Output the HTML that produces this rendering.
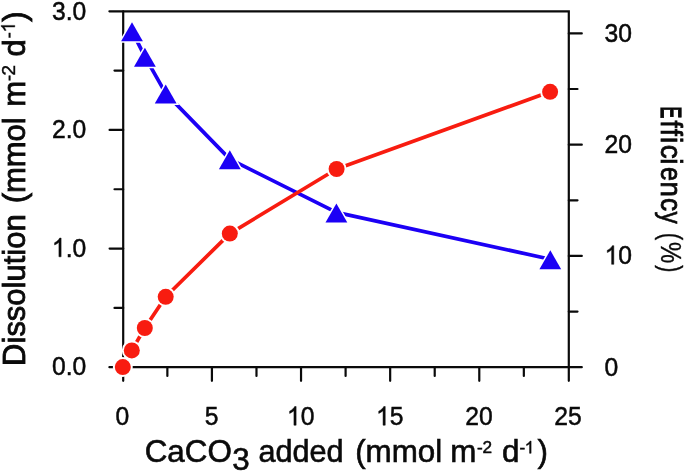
<!DOCTYPE html>
<html><head><meta charset="utf-8"><title>chart</title>
<style>html,body{margin:0;padding:0;background:#fff;overflow:hidden}body{width:685px;height:473px;font-family:"Liberation Sans",sans-serif}</style></head>
<body>
<svg width="685" height="473" viewBox="0 0 685 473" style="display:block;filter:blur(0.45px)">
<rect x="-5" y="-5" width="695" height="483" fill="#fff"/>
<g stroke="#0a0a0a" stroke-width="2.2" fill="none" stroke-linecap="round">
<path d="M109.4 11.3H568.8V380.8"/>
<path d="M123.2 11.3V380.8"/>
<path d="M109.4 367.2H581.8"/>
<path d="M114.5 307.88H123.2"/>
<path d="M109.60000000000001 248.57H123.2"/>
<path d="M114.5 189.25H123.2"/>
<path d="M109.60000000000001 129.93H123.2"/>
<path d="M114.5 70.62H123.2"/>
<path d="M568.8 311.56H577.5"/>
<path d="M568.8 255.93H581.8"/>
<path d="M568.8 200.29H577.5"/>
<path d="M568.8 144.66H581.8"/>
<path d="M568.8 89.02H577.5"/>
<path d="M568.8 33.39H581.8"/>
<path d="M167.36 367.2V376.0"/>
<path d="M211.92 367.2V380.8"/>
<path d="M256.48 367.2V376.0"/>
<path d="M301.04 367.2V380.8"/>
<path d="M345.60 367.2V376.0"/>
<path d="M390.16 367.2V380.8"/>
<path d="M434.72 367.2V376.0"/>
<path d="M479.28 367.2V380.8"/>
<path d="M523.84 367.2V376.0"/>
</g>
<polyline fill="none" stroke="#1c00f5" stroke-width="3.7" stroke-linejoin="round" points="132,31.2 144.9,56.6 165.7,93.4 229.8,159.1 336.4,212.4 550.3,259.2"/>
<polyline fill="none" stroke="#f81c10" stroke-width="3.7" stroke-linejoin="round" points="122.8,367.1 131.8,350.4 144.8,328.0 165.7,296.8 229.8,233.6 336.6,169 550.1,91.8"/>
<path d="M132 22.35L142.9 41.25H121.1Z" fill="#1c00f5" stroke="#fff" stroke-width="3.0" stroke-linejoin="miter" paint-order="stroke"/>
<path d="M144.9 47.75L155.8 66.65H134.0Z" fill="#1c00f5" stroke="#fff" stroke-width="3.0" stroke-linejoin="miter" paint-order="stroke"/>
<path d="M165.7 84.55L176.6 103.45H154.79999999999998Z" fill="#1c00f5" stroke="#fff" stroke-width="3.0" stroke-linejoin="miter" paint-order="stroke"/>
<path d="M229.8 150.25L240.70000000000002 169.14999999999998H218.9Z" fill="#1c00f5" stroke="#fff" stroke-width="3.0" stroke-linejoin="miter" paint-order="stroke"/>
<path d="M336.4 203.55L347.29999999999995 222.45H325.5Z" fill="#1c00f5" stroke="#fff" stroke-width="3.0" stroke-linejoin="miter" paint-order="stroke"/>
<path d="M550.3 250.35000000000002L561.1999999999999 269.25H539.4Z" fill="#1c00f5" stroke="#fff" stroke-width="3.0" stroke-linejoin="miter" paint-order="stroke"/>
<circle cx="550.1" cy="91.8" r="8.0" fill="#f81c10" stroke="#fff" stroke-width="4.0" paint-order="stroke"/>
<circle cx="336.6" cy="169" r="8.0" fill="#f81c10" stroke="#fff" stroke-width="4.0" paint-order="stroke"/>
<circle cx="229.8" cy="233.6" r="8.0" fill="#f81c10" stroke="#fff" stroke-width="4.0" paint-order="stroke"/>
<circle cx="165.7" cy="296.8" r="8.0" fill="#f81c10" stroke="#fff" stroke-width="4.0" paint-order="stroke"/>
<circle cx="144.8" cy="328.0" r="8.0" fill="#f81c10" stroke="#fff" stroke-width="4.0" paint-order="stroke"/>
<circle cx="131.8" cy="350.4" r="8.0" fill="#f81c10" stroke="#fff" stroke-width="4.0" paint-order="stroke"/>
<circle cx="122.8" cy="367.1" r="8.0" fill="#f81c10" stroke="#fff" stroke-width="4.0" paint-order="stroke"/>
<g font-family="'Liberation Sans', sans-serif" fill="#0a0a0a">
<text transform="translate(115.53 425.20) scale(0.95 1)" font-size="26" stroke="#0a0a0a" stroke-width="0.5">0</text>
<text transform="translate(204.65 425.20) scale(0.95 1)" font-size="26" stroke="#0a0a0a" stroke-width="0.5">5</text>
<path transform="translate(286.91 425.20) scale(0.01206 -0.01270)" d="M763 0H583V1147Q518 1085 412.5 1023T223 930V1104Q373 1174 485 1274T644 1472H763Z" stroke="#0a0a0a" stroke-width="39.4"/><text transform="translate(300.64 425.20) scale(0.95 1)" font-size="26" stroke="#0a0a0a" stroke-width="0.5">0</text>
<path transform="translate(376.03 425.20) scale(0.01206 -0.01270)" d="M763 0H583V1147Q518 1085 412.5 1023T223 930V1104Q373 1174 485 1274T644 1472H763Z" stroke="#0a0a0a" stroke-width="39.4"/><text transform="translate(389.76 425.20) scale(0.95 1)" font-size="26" stroke="#0a0a0a" stroke-width="0.5">5</text>
<text transform="translate(465.15 425.20) scale(0.95 1)" font-size="26" stroke="#0a0a0a" stroke-width="0.5">2</text><text transform="translate(478.88 425.20) scale(0.95 1)" font-size="26" stroke="#0a0a0a" stroke-width="0.5">0</text>
<text transform="translate(554.27 425.20) scale(0.95 1)" font-size="26" stroke="#0a0a0a" stroke-width="0.5">2</text><text transform="translate(568.00 425.20) scale(0.95 1)" font-size="26" stroke="#0a0a0a" stroke-width="0.5">5</text>
<text transform="translate(51.90 375.40) scale(0.95 1)" font-size="26" stroke="#0a0a0a" stroke-width="0.5">0</text><text transform="translate(65.63 375.40) scale(0.95 1)" font-size="26" stroke="#0a0a0a" stroke-width="0.5">.</text><text transform="translate(72.50 375.40) scale(0.95 1)" font-size="26" stroke="#0a0a0a" stroke-width="0.5">0</text>
<path transform="translate(51.90 256.77) scale(0.01206 -0.01270)" d="M763 0H583V1147Q518 1085 412.5 1023T223 930V1104Q373 1174 485 1274T644 1472H763Z" stroke="#0a0a0a" stroke-width="39.4"/><text transform="translate(65.63 256.77) scale(0.95 1)" font-size="26" stroke="#0a0a0a" stroke-width="0.5">.</text><text transform="translate(72.50 256.77) scale(0.95 1)" font-size="26" stroke="#0a0a0a" stroke-width="0.5">0</text>
<text transform="translate(51.90 138.13) scale(0.95 1)" font-size="26" stroke="#0a0a0a" stroke-width="0.5">2</text><text transform="translate(65.63 138.13) scale(0.95 1)" font-size="26" stroke="#0a0a0a" stroke-width="0.5">.</text><text transform="translate(72.50 138.13) scale(0.95 1)" font-size="26" stroke="#0a0a0a" stroke-width="0.5">0</text>
<text transform="translate(51.90 19.50) scale(0.95 1)" font-size="26" stroke="#0a0a0a" stroke-width="0.5">3</text><text transform="translate(65.63 19.50) scale(0.95 1)" font-size="26" stroke="#0a0a0a" stroke-width="0.5">.</text><text transform="translate(72.50 19.50) scale(0.95 1)" font-size="26" stroke="#0a0a0a" stroke-width="0.5">0</text>
<text transform="translate(604.60 375.60) scale(0.95 1)" font-size="26" stroke="#0a0a0a" stroke-width="0.5">0</text>
<path transform="translate(604.60 264.33) scale(0.01206 -0.01270)" d="M763 0H583V1147Q518 1085 412.5 1023T223 930V1104Q373 1174 485 1274T644 1472H763Z" stroke="#0a0a0a" stroke-width="39.4"/><text transform="translate(618.33 264.33) scale(0.95 1)" font-size="26" stroke="#0a0a0a" stroke-width="0.5">0</text>
<text transform="translate(604.60 153.06) scale(0.95 1)" font-size="26" stroke="#0a0a0a" stroke-width="0.5">2</text><text transform="translate(618.33 153.06) scale(0.95 1)" font-size="26" stroke="#0a0a0a" stroke-width="0.5">0</text>
<text transform="translate(604.60 41.79) scale(0.95 1)" font-size="26" stroke="#0a0a0a" stroke-width="0.5">3</text><text transform="translate(618.33 41.79) scale(0.95 1)" font-size="26" stroke="#0a0a0a" stroke-width="0.5">0</text>
<text transform="translate(144.68 461.60) scale(1.012 1)" font-size="31" stroke="#0a0a0a" stroke-width="0.6">CaCO</text>
<text transform="translate(232.34 469.70) scale(1.012 1)" font-size="31" stroke="#0a0a0a" stroke-width="0.6">3</text>
<text transform="translate(258.46 461.60) scale(0.988 1)" font-size="31" stroke="#0a0a0a" stroke-width="0.6">added</text>
<text transform="translate(355.18 461.60) scale(1.012 1)" font-size="31" stroke="#0a0a0a" stroke-width="0.6">(mmol</text>
<text transform="translate(450.18 461.60) scale(1.012 1)" font-size="31" stroke="#0a0a0a" stroke-width="0.6">m</text>
<text transform="translate(477.09 453.30) scale(1.012 1)" font-size="17" stroke="#0a0a0a" stroke-width="0.5">-</text>
<text transform="translate(482.59 453.30) scale(1.012 1)" font-size="17" stroke="#0a0a0a" stroke-width="0.5">2</text>
<text transform="translate(501.94 461.60) scale(1.012 1)" font-size="31" stroke="#0a0a0a" stroke-width="0.6">d</text>
<text transform="translate(519.49 453.30) scale(1.012 1)" font-size="17" stroke="#0a0a0a" stroke-width="0.5">-</text>
<path transform="translate(524.68 453.30) scale(0.00840 -0.00830)" d="M763 0H583V1147Q518 1085 412.5 1023T223 930V1104Q373 1174 485 1274T644 1472H763Z" stroke="#0a0a0a" stroke-width="60.2"/>
<text transform="translate(537.55 461.60) scale(1.012 1)" font-size="31" stroke="#0a0a0a" stroke-width="0.6">)</text>
<g transform="translate(25.0 363.8) rotate(-90)">
<text transform="translate(-2.08 0.00) scale(1.0 1.005)" font-size="31" stroke="#0a0a0a" stroke-width="0.85">Dissolution</text>
<text transform="translate(160.43 0.00) scale(1.0 1.005)" font-size="31" stroke="#0a0a0a" stroke-width="0.85">(mmol</text>
<text transform="translate(257.13 0.00) scale(1.0 1.005)" font-size="31" stroke="#0a0a0a" stroke-width="0.85">m</text>
<text transform="translate(282.55 -10.20) scale(1.0 1.005)" font-size="19" stroke="#0a0a0a" stroke-width="0.4">-</text>
<text transform="translate(288.20 -10.20) scale(1.0 1.005)" font-size="19" stroke="#0a0a0a" stroke-width="0.4">2</text>
<text transform="translate(307.28 0.00) scale(1.0 1.005)" font-size="31" stroke="#0a0a0a" stroke-width="0.85">d</text>
<text transform="translate(325.25 -10.20) scale(1.0 1.005)" font-size="19" stroke="#0a0a0a" stroke-width="0.4">-</text>
<path transform="translate(331.33 -10.20) scale(0.00928 -0.00932)" d="M763 0H583V1147Q518 1085 412.5 1023T223 930V1104Q373 1174 485 1274T644 1472H763Z" stroke="#0a0a0a" stroke-width="43.1"/>
<text transform="translate(342.08 0.00) scale(1.0 1.005)" font-size="31" stroke="#0a0a0a" stroke-width="0.85">)</text>
</g>
<g transform="translate(661.1 107.6) rotate(90)">
<text transform="translate(-0.99 0.00) scale(0.62 1.04)" font-size="28.5" stroke="#0a0a0a" stroke-width="1.3">E</text>
<text transform="translate(12.95 0.00) scale(0.9 1.04)" font-size="28.5" stroke="#0a0a0a" stroke-width="0.8">f</text>
<text transform="translate(21.25 0.00) scale(0.9 1.04)" font-size="28.5" stroke="#0a0a0a" stroke-width="0.8">f</text>
<text transform="translate(29.46 0.00) scale(0.97 1.04)" font-size="28.5" stroke="#0a0a0a" stroke-width="0.8">i</text>
<text transform="translate(37.19 0.00) scale(0.97 1.04)" font-size="28.5" stroke="#0a0a0a" stroke-width="0.8">c</text>
<text transform="translate(50.66 0.00) scale(0.97 1.04)" font-size="28.5" stroke="#0a0a0a" stroke-width="0.8">i</text>
<text transform="translate(59.30 0.00) scale(0.88 1.04)" font-size="28.5" stroke="#0a0a0a" stroke-width="0.8">e</text>
<text transform="translate(73.96 0.00) scale(0.97 1.04)" font-size="28.5" stroke="#0a0a0a" stroke-width="0.8">n</text>
<text transform="translate(90.45 0.00) scale(0.92 1.04)" font-size="28.5" stroke="#0a0a0a" stroke-width="0.8">c</text>
<text transform="translate(103.99 0.00) scale(0.86 1.04)" font-size="28.5" stroke="#0a0a0a" stroke-width="0.6">y</text>
<text transform="translate(125.24 0.00) scale(0.78 1.04)" font-size="28.5" stroke="#0a0a0a" stroke-width="0.4">(</text>
<text transform="translate(134.46 0.00) scale(0.84 1.04)" font-size="28.5" stroke="#0a0a0a" stroke-width="0.3">%</text>
<text transform="translate(157.62 0.00) scale(0.75 1.04)" font-size="28.5" stroke="#0a0a0a" stroke-width="0.4">)</text>
</g>
</g>
</svg>
</body></html>
